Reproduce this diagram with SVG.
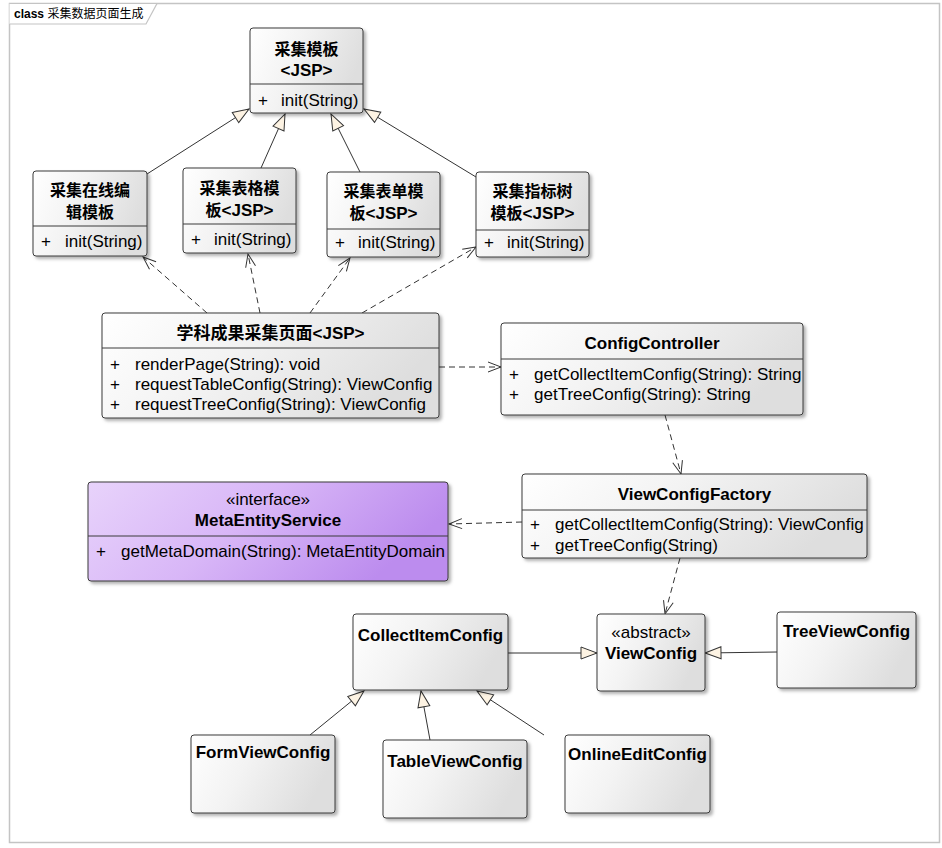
<svg xmlns="http://www.w3.org/2000/svg" width="942" height="848" viewBox="0 0 942 848">
<defs>
<linearGradient id="g" x1="0" y1="0" x2="1" y2="0.3">
<stop offset="0" stop-color="#ffffff"/>
<stop offset="0.45" stop-color="#f3f3f3"/>
<stop offset="1" stop-color="#dedede"/>
</linearGradient>
<linearGradient id="gp" x1="0" y1="0" x2="1" y2="0.3">
<stop offset="0" stop-color="#e8d3fb"/>
<stop offset="0.5" stop-color="#d8b6f7"/>
<stop offset="1" stop-color="#bc8cee"/>
</linearGradient>
<filter id="sh" x="-10%" y="-10%" width="130%" height="130%">
<feDropShadow dx="2.5" dy="2.5" stdDeviation="1.5" flood-color="#000" flood-opacity="0.3"/>
</filter>
<marker id="gen" markerUnits="userSpaceOnUse" markerWidth="20" markerHeight="16" refX="17" refY="7" orient="auto" overflow="visible">
<path d="M1,1 L17,7 L1,13 Z" fill="#fdf3e3" stroke="#333" stroke-width="1"/>
</marker>
<marker id="dep" markerUnits="userSpaceOnUse" markerWidth="16" markerHeight="12" refX="13" refY="5" orient="auto" overflow="visible">
<path d="M0,0 L13,5 L0,10" fill="none" stroke="#333" stroke-width="1"/>
</marker>
</defs>
<style>
.box{fill:url(#g);stroke:#3a3a3a;stroke-width:1;filter:url(#sh)}
.ibox{fill:url(#gp);stroke:#3a3a3a;stroke-width:1;filter:url(#sh)}
.div{stroke:#3a3a3a;stroke-width:1}
text{font-family:"Liberation Sans",Arial,"Noto Sans CJK SC",sans-serif;font-size:17px;fill:#000}
.b{font-weight:bold}
.c{text-anchor:middle}
.cj{font-family:"Noto Sans CJK SC","Liberation Sans",sans-serif;font-size:16px;font-weight:bold}
.gl{fill:none;stroke:#333;stroke-width:1;marker-end:url(#gen)}
.dl{fill:none;stroke:#333;stroke-width:1;stroke-dasharray:6,4;marker-end:url(#dep)}
</style>
<rect x="0" y="0" width="942" height="848" fill="#ffffff"/>
<g id="frame">
<rect x="9.5" y="3.5" width="930" height="839" fill="#ffffff" stroke="#c4c4c4" stroke-width="1.5"/>
<path d="M9.5,3.5 H157 L146,24 H9.5" fill="#ffffff" stroke="#c4c4c4" stroke-width="1.2"/>
<text x="14" y="18" style="font-size:12px"><tspan class="b">class</tspan> <tspan style="font-family:'Noto Sans CJK SC',sans-serif">采集数据页面生成</tspan></text>
</g>
<g id="connectors">
<line class="gl" x1="147" y1="174" x2="249" y2="109"/>
<line class="gl" x1="261" y1="168" x2="285" y2="114"/>
<line class="gl" x1="360" y1="172" x2="331" y2="114"/>
<line class="gl" x1="476" y1="177" x2="364" y2="109"/>
<line class="gl" x1="508" y1="653" x2="597" y2="653"/>
<line class="gl" x1="777" y1="652" x2="705" y2="653"/>
<line class="gl" x1="310" y1="735" x2="364" y2="691"/>
<line class="gl" x1="430" y1="740" x2="421" y2="691"/>
<line class="gl" x1="544" y1="735" x2="477" y2="691"/>
<line class="dl" x1="207" y1="313" x2="143" y2="257"/>
<line class="dl" x1="260" y1="313" x2="248" y2="254"/>
<line class="dl" x1="310" y1="313" x2="350" y2="258"/>
<line class="dl" x1="362" y1="313" x2="476" y2="247"/>
<line class="dl" x1="439" y1="367" x2="501" y2="367"/>
<line class="dl" x1="665" y1="415" x2="681" y2="474"/>
<line class="dl" x1="522" y1="522" x2="449" y2="524"/>
<line class="dl" x1="680" y1="558" x2="665" y2="614"/>
</g>
<g id="tpl">
<rect class="box" x="250" y="28" width="113" height="85" rx="3"/>
<line class="div" x1="250" y1="84" x2="363" y2="84"/>
<text class="cj c" x="306.5" y="55">采集模板</text>
<text class="b c" x="306.5" y="76">&lt;JSP&gt;</text>
<text x="258" y="106">+</text><text x="281" y="106">init(String)</text>
</g>
<g id="online">
<rect class="box" x="33" y="171" width="114" height="85" rx="3"/>
<line class="div" x1="33" y1="226" x2="147" y2="226"/>
<text class="cj c" x="90" y="196">采集在线编</text>
<text class="cj c" x="90" y="218">辑模板</text>
<text x="41" y="247">+</text><text x="65" y="247">init(String)</text>
</g>
<g id="table">
<rect class="box" x="183" y="168" width="113" height="85" rx="3"/>
<line class="div" x1="183" y1="224" x2="296" y2="224"/>
<text class="cj c" x="239.5" y="194">采集表格模</text>
<text class="c" x="239.5" y="216"><tspan class="cj">板</tspan><tspan class="b">&lt;JSP&gt;</tspan></text>
<text x="191" y="245">+</text><text x="214" y="245">init(String)</text>
</g>
<g id="form">
<rect class="box" x="327" y="172" width="113" height="85" rx="3"/>
<line class="div" x1="327" y1="229" x2="440" y2="229"/>
<text class="cj c" x="383.5" y="197">采集表单模</text>
<text class="c" x="383.5" y="219"><tspan class="cj">板</tspan><tspan class="b">&lt;JSP&gt;</tspan></text>
<text x="335" y="248">+</text><text x="358" y="248">init(String)</text>
</g>
<g id="indtree">
<rect class="box" x="476" y="172" width="113" height="85" rx="3"/>
<line class="div" x1="476" y1="230" x2="589" y2="230"/>
<text class="cj c" x="532.5" y="197">采集指标树</text>
<text class="c" x="532.5" y="219"><tspan class="cj">模板</tspan><tspan class="b">&lt;JSP&gt;</tspan></text>
<text x="484" y="248">+</text><text x="507" y="248">init(String)</text>
</g>
<g id="page">
<rect class="box" x="102" y="313" width="337" height="105" rx="3"/>
<line class="div" x1="102" y1="348" x2="439" y2="348"/>
<text class="c" x="270.5" y="339"><tspan class="cj" style="font-size:17px">学科成果采集页面</tspan><tspan class="b">&lt;JSP&gt;</tspan></text>
<text x="110" y="370">+</text><text x="135" y="370">renderPage(String): void</text>
<text x="110" y="390">+</text><text x="135" y="390">requestTableConfig(String): ViewConfig</text>
<text x="110" y="410">+</text><text x="135" y="410">requestTreeConfig(String): ViewConfig</text>
</g>
<g id="ConfigController">
<rect class="box" x="501" y="323" width="302" height="92" rx="3"/>
<line class="div" x1="501" y1="359" x2="803" y2="359"/>
<text class="b c" x="652" y="349">ConfigController</text>
<text x="509" y="380">+</text><text x="534" y="380">getCollectItemConfig(String): String</text>
<text x="509" y="400">+</text><text x="534" y="400">getTreeConfig(String): String</text>
</g>
<g id="ViewConfigFactory">
<rect class="box" x="522" y="474" width="345" height="84" rx="3"/>
<line class="div" x1="522" y1="510" x2="867" y2="510"/>
<text class="b c" x="694.5" y="500">ViewConfigFactory</text>
<text x="530" y="530">+</text><text x="555" y="530">getCollectItemConfig(String): ViewConfig</text>
<text x="530" y="551">+</text><text x="555" y="551">getTreeConfig(String)</text>
</g>
<g id="MetaEntityService">
<rect class="ibox" x="88" y="482" width="360" height="99" rx="3"/>
<line class="div" x1="88" y1="536" x2="448" y2="536"/>
<text class="c" x="268" y="505">«interface»</text>
<text class="b c" x="268" y="526">MetaEntityService</text>
<text x="96" y="557">+</text><text x="121" y="557">getMetaDomain(String): MetaEntityDomain</text>
</g>
<g id="CollectItemConfig">
<rect class="box" x="353" y="614" width="155" height="76" rx="3"/>
<text class="b c" x="430.5" y="641">CollectItemConfig</text>
</g>
<g id="ViewConfig">
<rect class="box" x="597" y="614" width="108" height="77" rx="3"/>
<text class="c" x="651" y="638">«abstract»</text>
<text class="b c" x="651" y="659">ViewConfig</text>
</g>
<g id="TreeViewConfig">
<rect class="box" x="777" y="612" width="139" height="76" rx="3"/>
<text class="b c" x="846.5" y="637">TreeViewConfig</text>
</g>
<g id="FormViewConfig">
<rect class="box" x="191" y="735" width="144" height="78" rx="3"/>
<text class="b c" x="263" y="758">FormViewConfig</text>
</g>
<g id="TableViewConfig">
<rect class="box" x="383" y="740" width="144" height="78" rx="3"/>
<text class="b c" x="455" y="767">TableViewConfig</text>
</g>
<g id="OnlineEditConfig">
<rect class="box" x="565" y="735" width="145" height="78" rx="3"/>
<text class="b c" x="637.5" y="760">OnlineEditConfig</text>
</g>
</svg>
